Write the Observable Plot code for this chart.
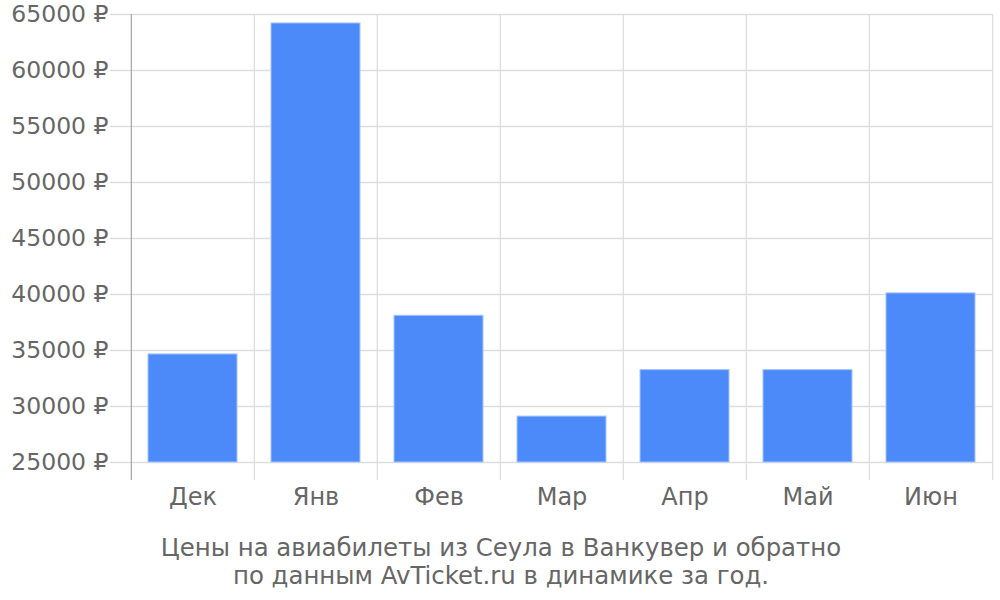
<!DOCTYPE html>
<html><head><meta charset="utf-8">
<script src="https://cdn.jsdelivr.net/npm/d3@7"></script>
<script src="https://cdn.jsdelivr.net/npm/@observablehq/plot@0.6"></script>
<style>
body{margin:0;background:#fff;font-family:"DejaVu Sans",sans-serif;}
#cap{width:1002px;text-align:center;color:#666;font-size:24.4px;line-height:28px;padding-top:4px;}
</style>
</head><body>
<div id="chart"></div>
<div id="cap">Цены на авиабилеты из Сеула в Ванкувер и обратно<br>по данным AvTicket.ru в динамике за год.</div>
<script>
const months = ["Дек","Янв","Фев","Мар","Апр","Май","Июн"];
const prices = [34650, 64200, 38100, 29100, 33250, 33250, 40100];
const yTicks = [25000, 30000, 35000, 40000, 45000, 50000, 55000, 60000, 65000];
const baseline = 25000;

const data = months.map((m, i) => ({month: m, price: prices[i]}));
const W = 1000, H = 530, ML = 130, MR = 7, MT = 14, MB = 68;
const step = (W - ML - MR) / months.length;
const yTop = yTicks[yTicks.length - 1], yBot = yTicks[0];

const chart = Plot.plot({
  width: W, height: H,
  marginLeft: ML, marginRight: MR, marginTop: MT, marginBottom: MB,
  style: {fontFamily: "DejaVu Sans", fontSize: "24px", color: "#666", background: "#fff"},
  x: {domain: months, paddingInner: 0.28, paddingOuter: 0.14, label: null},
  y: {domain: [yBot, yTop], label: null},
  marks: [
    Plot.ruleY(yTicks, {stroke: "#dedede", strokeWidth: 1.3, insetLeft: -20}),
    Plot.ruleX(months.slice(1), {x: d => d, dx: -step / 2, y1: yTop, y2: yBot, insetBottom: -18, stroke: "#dedede", strokeWidth: 1.3}),
    Plot.ruleX(months.slice(-1), {x: d => d, dx: step / 2, y1: yTop, y2: yBot, insetBottom: -18, stroke: "#dedede", strokeWidth: 1.3}),
    Plot.barY(data, {x: "month", y1: () => baseline, y2: "price", fill: "#4d8af9", stroke: "#a6c4fb", strokeWidth: 1}),
    Plot.ruleX(months.slice(0, 1), {x: d => d, dx: -step / 2, y1: yTop, y2: yBot, insetBottom: -18, stroke: "#aaa", strokeWidth: 1.3}),
    Plot.axisY({ticks: yTicks, tickSize: 0, tickPadding: 22, tickFormat: d => `${d} ₽`, fill: "#666", fontSize: 23.5}),
    Plot.axisX({tickSize: 0, tickPadding: 25, fill: "#666", fontSize: 24})
  ]
});
document.getElementById("chart").appendChild(chart);
</script>
</body></html>
